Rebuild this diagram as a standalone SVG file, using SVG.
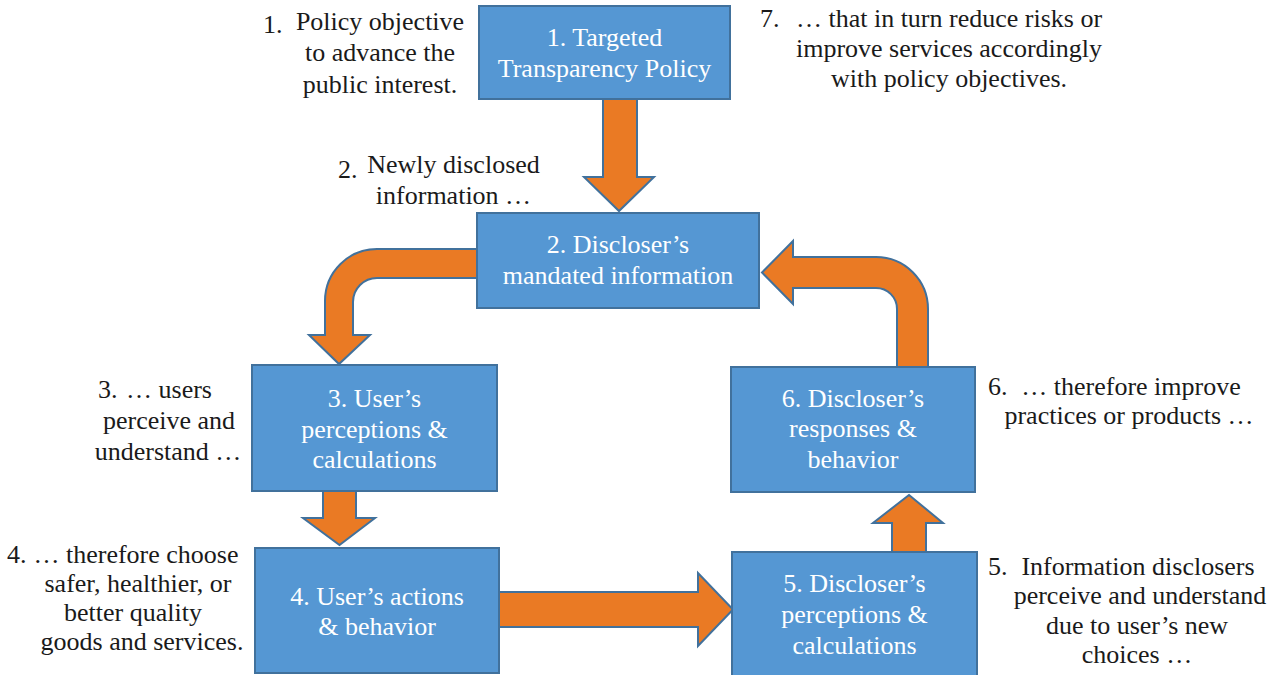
<svg xmlns="http://www.w3.org/2000/svg" width="1279" height="675" viewBox="0 0 1279 675">
<style>
.box{fill:#5597D3;stroke:#41719C;stroke-width:2}
.arr{fill:#EA7A24;stroke:#41719C;stroke-width:2;stroke-linejoin:miter}
text{font-family:'Liberation Serif','DejaVu Serif',serif;font-size:26px}
.bt{fill:#fff;text-anchor:middle}
.at{fill:#1a1a1a;text-anchor:middle}
.num{fill:#1a1a1a}
</style>
<rect width="1279" height="675" fill="#fff"/>
<g id="connectors">
<path class="arr" d="M603,96 L637,96 L637,177 L654,177 L619,211 L584,177 L603,177 Z"/>
<path class="arr" d="M480,249 L377,249 A52,52 0 0 0 325,301 L325,335 L309,335 L339,364 L370,335 L353,335 L353,302 A24,24 0 0 1 377,278 L480,278 Z"/>
<path class="arr" d="M323,489 L356,489 L356,518 L375,518 L339.5,545 L303,518 L323,518 Z"/>
<path class="arr" d="M497,592 L698,592 L698,573 L733,609.5 L698,646 L698,627 L497,627 Z"/>
<path class="arr" d="M892,554 L892,523 L873,523 L909,495 L943,523 L926,523 L926,554 Z"/>
<path class="arr" d="M897,369 L897,309 A21,21 0 0 0 876,288 L793,288 L793,304 L762,272.5 L793,241 L793,257 L876,257 A52,52 0 0 1 928,309 L928,369 Z"/>
</g>
<g id="node1">
<rect class="box" x="479" y="6" width="251" height="93"/>
<text class="bt" x="604.5" y="46">1. Targeted</text>
<text class="bt" x="604.5" y="77">Transparency Policy</text>
</g>
<g id="node2">
<rect class="box" x="477" y="213" width="282" height="95"/>
<text class="bt" x="618" y="253">2. Discloser’s</text>
<text class="bt" x="618" y="284">mandated information</text>
</g>
<g id="node3">
<rect class="box" x="252" y="365" width="245" height="126"/>
<text class="bt" x="374.5" y="407">3. User’s</text>
<text class="bt" x="374.5" y="438">perceptions &amp;</text>
<text class="bt" x="374.5" y="468">calculations</text>
</g>
<g id="node4">
<rect class="box" x="255" y="548" width="244" height="125"/>
<text class="bt" x="377" y="605">4. User’s actions</text>
<text class="bt" x="377" y="635">&amp; behavior</text>
</g>
<g id="node5">
<rect class="box" x="732" y="552" width="245" height="130"/>
<text class="bt" x="854.5" y="592">5. Discloser’s</text>
<text class="bt" x="854.5" y="623">perceptions &amp;</text>
<text class="bt" x="854.5" y="654">calculations</text>
</g>
<g id="node6">
<rect class="box" x="731" y="367" width="244" height="125"/>
<text class="bt" x="853" y="407">6. Discloser’s</text>
<text class="bt" x="853" y="437">responses &amp;</text>
<text class="bt" x="853" y="468">behavior</text>
</g>
<g id="note1">
<text class="num" x="263" y="33">1.</text>
<text class="at" x="380" y="30">Policy objective</text>
<text class="at" x="380" y="61">to advance the</text>
<text class="at" x="380" y="93">public interest.</text>
</g>
<g id="note2">
<text class="num" x="338" y="178">2.</text>
<text class="at" x="453.5" y="173">Newly disclosed</text>
<text class="at" x="453.5" y="204">information …</text>
</g>
<g id="note7">
<text class="num" x="760" y="27">7.</text>
<text class="at" x="949" y="27">… that in turn reduce risks or</text>
<text class="at" x="949" y="57">improve services accordingly</text>
<text class="at" x="949" y="87">with policy objectives.</text>
</g>
<g id="note3">
<text class="num" x="98" y="398">3.</text>
<text class="at" x="169" y="398">… users</text>
<text class="at" x="169" y="429">perceive and</text>
<text class="at" x="168" y="460">understand …</text>
</g>
<g id="note4">
<text class="num" x="7" y="563">4.</text>
<text class="at" x="136" y="563">… therefore choose</text>
<text class="at" x="138" y="592">safer, healthier, or</text>
<text class="at" x="133" y="621">better quality</text>
<text class="at" x="142" y="650">goods and services.</text>
</g>
<g id="note6">
<text class="num" x="988" y="395">6.</text>
<text class="at" x="1131" y="395">… therefore improve</text>
<text class="at" x="1129" y="424">practices or products …</text>
</g>
<g id="note5">
<text class="num" x="988" y="575">5.</text>
<text class="at" x="1138" y="575">Information disclosers</text>
<text class="at" x="1140" y="604">perceive and understand</text>
<text class="at" x="1137" y="634">due to user’s new</text>
<text class="at" x="1137" y="663">choices …</text>
</g>
</svg>
